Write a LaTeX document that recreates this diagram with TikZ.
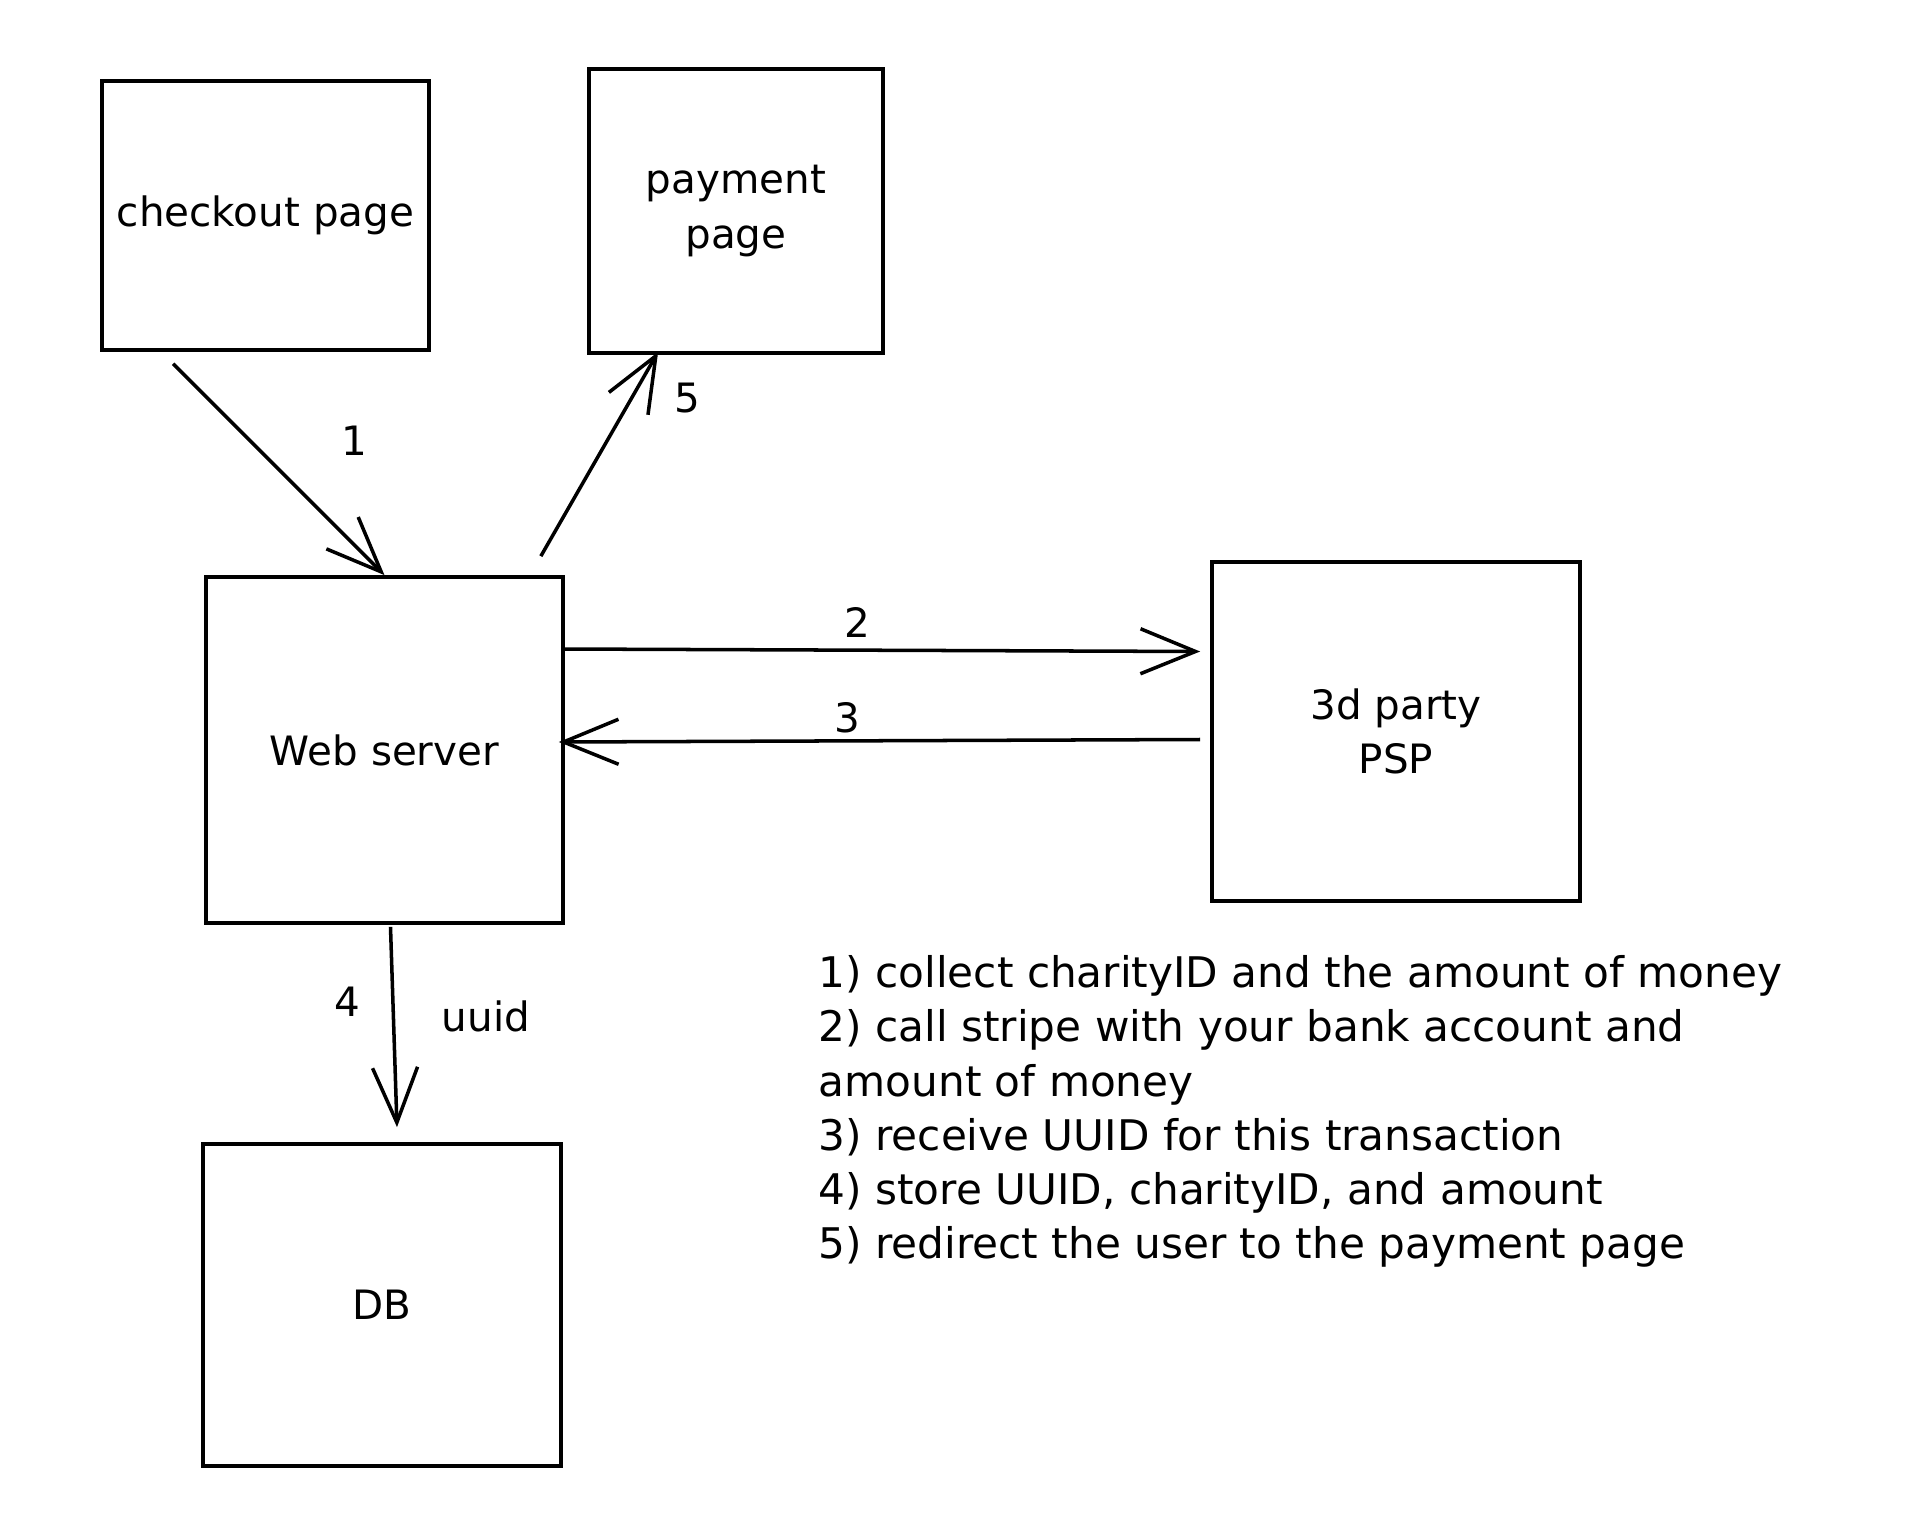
\documentclass[tikz,border=0pt]{standalone}
\usepackage{fontspec}
\setmainfont{DejaVu Sans}
\usetikzlibrary{arrows.meta}
\begin{document}
\begin{tikzpicture}[x=0.01cm,y=-0.01cm,
    txt/.style={font=\fontsize{11.5}{15.4}\selectfont},
    box/.style={txt,draw,line width=1pt,inner sep=0pt,align=center},
    arr/.style={line width=1pt,-{Straight Barb[length=0.55cm,width=0.45cm]}},
    lbl/.style={txt,inner sep=0pt}]
    \useasboundingbox (0,0) rectangle (1920,1521);
    \node[box,minimum width=3.27cm,minimum height=2.69cm] (checkout) at (265.5,215.5) {checkout page};
    \node[box,minimum width=2.94cm,minimum height=2.84cm] (payment) at (736,211) {payment\\page};
    \node[box,minimum width=3.57cm,minimum height=3.46cm] (web) at (384.5,750) {Web server};
    \node[box,minimum width=3.68cm,minimum height=3.39cm] (psp) at (1396,731.5) {3d party\\PSP};
    \node[box,minimum width=3.58cm,minimum height=3.22cm] (db) at (382,1305) {DB};
    \draw[arr] ([shift={(73,12)}]checkout.south west) -- (web.north);
    \draw[arr] ([shift={(-24,-19)}]web.north east) -- ([shift={(71,-3)}]payment.south west);
    \draw[arr] ([shift={(-3,-101)}]web.east) -- ([shift={(-10,-80)}]psp.west);
    \draw[arr] ([shift={(-10,8)}]psp.west) -- ([shift={(-6,-8)}]web.east);
    \draw[arr] ([shift={(6,2)}]web.south) -- ([shift={(15,-15)}]db.north);
    \node[lbl] (l1) at (354,441) {1};
    \node[lbl] (l5) at (687,398) {5};
    \node[lbl] (l2) at (857,622) {2};
    \node[lbl] (l3) at (847,718) {3};
    \node[lbl] (l4) at (347,1002) {4};
    \node[lbl] (luuid) at (486,1016) {uuid};
    \node[lbl,anchor=north west,align=left,font=\fontsize{12}{15.4}\selectfont] (notes) at (818,955) {1) collect charityID and the amount of money\\2) call stripe with your bank account and\\amount of money\\3) receive UUID for this transaction\\4) store UUID, charityID, and amount\\5) redirect the user to the payment page};
\end{tikzpicture}
\end{document}
